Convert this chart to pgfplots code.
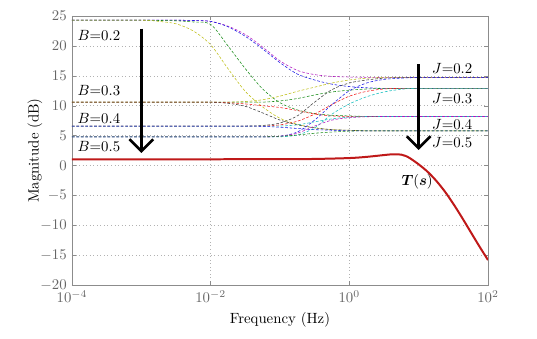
\documentclass[border=0pt]{standalone}
\usepackage{bm}
\usepackage{pgfplots}
\pgfplotsset{compat=1.18}
\usetikzlibrary{arrows.meta}
\definecolor{mblue}{rgb}{0.1,0.1,0.9}
\definecolor{mgreen}{rgb}{0.1,0.55,0.1}
\definecolor{mred}{rgb}{0.95,0.1,0.1}
\definecolor{mcyan}{rgb}{0.1,0.75,0.75}
\definecolor{mmag}{rgb}{0.7,0.1,0.75}
\definecolor{molive}{rgb}{0.75,0.75,0.1}
\definecolor{mgray}{rgb}{0.25,0.25,0.25}
\definecolor{tred}{rgb}{0.75,0.1,0.1}
\tikzset{dsh/.style={line width=0.38pt, dash pattern=on 1.8pt off 1.2pt, smooth, tension=0.5}}
\begin{document}
\begin{tikzpicture}
\path[use as bounding box] (-48.6pt,-35.8pt) rectangle (314.1pt,192.6pt);
\begin{semilogxaxis}[
  scale only axis, width=281pt, height=181.8pt,
  xmin=0.0001, xmax=100, ymin=-20, ymax=25,
  xtick={0.0001,0.01,1,100},
  xticklabels={$10^{-4}$,$10^{-2}$,$10^{0}$,$10^{2}$},
  ytick={-20,-15,-10,-5,0,5,10,15,20,25},
  xminorticks=false,
  grid=major, major grid style={dotted, black!30},
  tick align=inside, major tick length=3pt,
  axis line style={black!45}, tick style={black!45},
  tick label style={black!60},
  xlabel={Frequency (Hz)}, ylabel={Magnitude (dB)},
  xlabel style={at={(axis description cs:0.5,-0.13)}, anchor=center},
  ylabel style={at={(axis description cs:-0.089,0.5)}, anchor=center},
]
% B=0.2
\addplot[dsh, mmag] coordinates {(1e-4,24.3)(1e-3,24.3)(1.778e-3,24.3)(3.162e-3,24.3)(5.623e-3,24.25)(1e-2,24.1)(1.778e-2,23.3)(3.162e-2,21.9)(5.623e-2,19.8)(0.1,17.5)(0.1778,15.9)(0.3162,15.2)(0.5623,14.9)(1,14.8)(1.778,14.75)(3.162,14.7)(5.623,14.7)(10,14.7)(100,14.7)};
\addplot[dsh, mblue] coordinates {(1e-4,24.3)(1e-3,24.3)(1.778e-3,24.3)(3.162e-3,24.3)(5.623e-3,24.25)(1e-2,24.1)(1.778e-2,23.2)(3.162e-2,21.6)(5.623e-2,19.5)(0.1,17.2)(0.1778,15.3)(0.3162,14.3)(0.5623,13.6)(1,13.2)(1.778,13.0)(3.162,12.9)(5.623,12.9)(10,12.9)(100,12.9)};
\addplot[dsh, mgreen] coordinates {(1e-4,24.3)(1e-3,24.3)(1.778e-3,24.25)(3.162e-3,24.2)(5.623e-3,24.0)(1e-2,23.6)(1.778e-2,20.0)(3.162e-2,16.2)(5.623e-2,12.8)(0.1,10.5)(0.1778,9.3)(0.3162,8.7)(0.5623,8.4)(1,8.3)(1.778,8.2)(3.162,8.2)(5.623,8.2)(10,8.2)(100,8.2)};
\addplot[dsh, molive] coordinates {(1e-4,24.3)(1e-3,24.3)(1.778e-3,24.1)(3.162e-3,23.7)(5.623e-3,22.5)(1e-2,20.2)(1.778e-2,16.2)(3.162e-2,12.4)(5.623e-2,9.8)(0.1,7.9)(0.1778,6.9)(0.3162,6.3)(0.5623,6.0)(1,5.9)(1.778,5.8)(3.162,5.8)(5.623,5.8)(10,5.8)(100,5.8)};
% B=0.3
\addplot[dsh, molive] coordinates {(1e-4,10.6)(1e-3,10.6)(1e-2,10.6)(1.778e-2,10.6)(3.162e-2,10.7)(5.623e-2,11.0)(0.1,11.6)(0.1778,12.4)(0.3162,13.1)(0.5623,13.8)(1,14.3)(1.778,14.6)(3.162,14.7)(5.623,14.7)(10,14.7)(100,14.7)};
\addplot[dsh, mgreen] coordinates {(1e-4,10.6)(1e-3,10.6)(1e-2,10.6)(3.162e-2,10.6)(5.623e-2,10.6)(0.1,10.8)(0.1778,11.2)(0.3162,11.8)(0.5623,12.3)(1,12.6)(1.778,12.8)(3.162,12.9)(5.623,12.9)(10,12.9)(100,12.9)};
\addplot[dsh, mred] coordinates {(1e-4,10.6)(1e-3,10.6)(5.623e-3,10.6)(1e-2,10.6)(1.778e-2,10.5)(3.162e-2,10.3)(5.623e-2,10.0)(0.1,9.7)(0.1778,9.2)(0.3162,8.6)(0.5623,8.3)(1,8.2)(1.778,8.2)(10,8.2)(100,8.2)};
\addplot[dsh, mgray] coordinates {(1e-4,10.6)(1e-3,10.6)(5.623e-3,10.6)(1e-2,10.6)(1.778e-2,10.4)(3.162e-2,9.9)(5.623e-2,8.8)(0.1,7.6)(0.1778,6.8)(0.3162,6.3)(0.5623,6.0)(1,5.9)(1.778,5.8)(10,5.8)(100,5.8)};
% B=0.4
\addplot[dsh, mred] coordinates {(1e-4,6.6)(1e-3,6.6)(1e-2,6.6)(3.162e-2,6.6)(5.623e-2,6.6)(0.1,6.8)(0.1778,7.4)(0.3162,8.6)(0.5623,10.2)(1,11.6)(1.778,12.4)(3.162,12.8)(5.623,12.9)(10,12.9)(100,12.9)};
\addplot[dsh, mgray] coordinates {(1e-4,6.6)(1e-3,6.6)(1e-2,6.6)(3.162e-2,6.6)(5.623e-2,6.7)(0.1,7.1)(0.1778,8.3)(0.3162,10.6)(0.5623,12.7)(1,13.8)(1.778,14.3)(3.162,14.6)(5.623,14.7)(10,14.7)(100,14.7)};
\addplot[dsh, mcyan] coordinates {(1e-4,6.6)(1e-3,6.6)(1e-2,6.6)(5.623e-2,6.6)(0.1,6.6)(0.1778,6.8)(0.3162,7.3)(0.5623,7.8)(1,8.1)(1.778,8.2)(3.162,8.2)(10,8.2)(100,8.2)};
\addplot[dsh, mblue] coordinates {(1e-4,6.6)(1e-3,6.6)(1e-2,6.6)(3.162e-2,6.6)(5.623e-2,6.55)(0.1,6.4)(0.1778,6.2)(0.3162,6.0)(0.5623,5.9)(1,5.8)(1.778,5.8)(10,5.8)(100,5.8)};
% B=0.5
\addplot[dsh, mcyan] coordinates {(1e-4,4.8)(1e-3,4.8)(1e-2,4.8)(5.623e-2,4.8)(0.1,4.8)(0.1778,5.1)(0.3162,6.3)(0.5623,8.6)(1,10.3)(1.778,11.5)(3.162,12.3)(5.623,12.75)(10,12.9)(100,12.9)};
\addplot[dsh, mblue] coordinates {(1e-4,4.8)(1e-3,4.8)(1e-2,4.8)(5.623e-2,4.8)(0.1,4.9)(0.1778,5.6)(0.3162,7.6)(0.5623,10.2)(1,12.5)(1.778,13.8)(3.162,14.4)(5.623,14.6)(10,14.7)(100,14.7)};
\addplot[dsh, mmag] coordinates {(1e-4,4.8)(1e-3,4.8)(1e-2,4.8)(5.623e-2,4.8)(0.1,4.9)(0.1778,5.4)(0.3162,6.6)(0.5623,7.6)(1,8.0)(1.778,8.15)(3.162,8.2)(10,8.2)(100,8.2)};
\addplot[dsh, mgreen] coordinates {(1e-4,4.8)(1e-3,4.8)(1e-2,4.8)(5.623e-2,4.8)(0.1,4.9)(0.1778,5.1)(0.3162,5.4)(0.5623,5.6)(1,5.75)(1.778,5.8)(10,5.8)(100,5.8)};
% T(s)
\addplot[tred, line width=1.35pt, smooth, tension=0.5] coordinates {(1e-4,1.05)(1e-3,1.05)(1e-2,1.05)(0.1,1.06)(0.3162,1.1)(1,1.25)(1.778,1.45)(3.162,1.75)(4.217,1.88)(5.623,1.82)(6.494,1.6)(7.499,1.22)(10,0.2)(13.34,-1.0)(17.78,-2.5)(23.71,-4.3)(31.62,-6.4)(42.17,-8.7)(56.23,-11.1)(74.99,-13.5)(100,-15.8)};
\coordinate (a1) at (axis cs:0.001,22.9);
\coordinate (a2) at (axis cs:0.001,2.1);
\coordinate (b1) at (axis cs:10,16.9);
\coordinate (b2) at (axis cs:10,2.6);
\coordinate (lb2) at (axis cs:0.00012,21.7);
\coordinate (lb3) at (axis cs:0.00012,12.6);
\coordinate (lb4) at (axis cs:0.00012,7.9);
\coordinate (lb5) at (axis cs:0.00012,3.1);
\coordinate (lj2) at (axis cs:15.5,16.2);
\coordinate (lj3) at (axis cs:15.5,11.2);
\coordinate (lj4) at (axis cs:15.5,6.9);
\coordinate (lj5) at (axis cs:15.5,3.8);
\coordinate (ltt) at (axis cs:9.5,-2.8);
\end{semilogxaxis}
\draw[line width=1.8pt, -{Straight Barb[length=8pt, width=16pt]}] (a1) -- (a2);
\draw[line width=1.8pt, -{Straight Barb[length=8pt, width=16pt]}] (b1) -- (b2);
\node[anchor=west, inner sep=0pt] at (lb2) {$B$=0.2};
\node[anchor=west, inner sep=0pt] at (lb3) {$B$=0.3};
\node[anchor=west, inner sep=0pt] at (lb4) {$B$=0.4};
\node[anchor=west, inner sep=0pt] at (lb5) {$B$=0.5};
\node[anchor=west, inner sep=0pt] at (lj2) {$J$=0.2};
\node[anchor=west, inner sep=0pt] at (lj3) {$J$=0.3};
\node[anchor=west, inner sep=0pt] at (lj4) {$J$=0.4};
\node[anchor=west, inner sep=0pt] at (lj5) {$J$=0.5};
\node[inner sep=0pt] at (ltt) {$\bm{T}(\bm{s})$};
\end{tikzpicture}
\end{document}
